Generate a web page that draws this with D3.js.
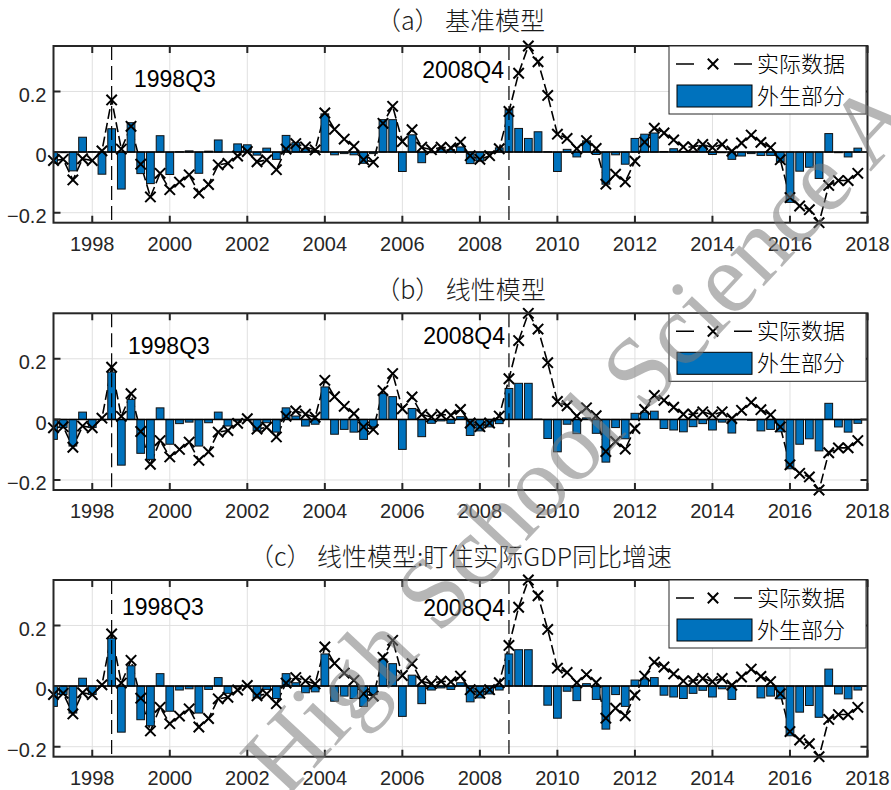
<!DOCTYPE html>
<html>
<head>
<meta charset="utf-8">
<script src="https://cdn.jsdelivr.net/npm/d3@7"></script>
<style>
  body { margin: 0; background: #fff; }
  svg { display: block; }
</style>
</head>
<body>
<svg id="chart" width="891" height="790"></svg>
<script>
// Quarterly sample 1997Q1 – 2017Q4
const quarters = d3.range(84).map(i => `${1997 + Math.floor(i / 4)}Q${(i % 4) + 1}`);

// Observed series (same in every panel)
const actual = [
  -0.028, -0.024, -0.092, -0.022, -0.028, 0.004, 0.172, 0.010,
  0.085, -0.040, -0.148, -0.070, -0.124, -0.099, -0.075, -0.135,
  -0.107, -0.042, -0.037, -0.013, 0.002, -0.032, -0.026, -0.058,
  0.010, 0.028, 0.017, 0.007, 0.129, 0.075, 0.043, 0.019,
  -0.025, -0.033, 0.095, 0.151, 0.035, 0.074, 0.016, 0.008,
  0.016, 0.014, 0.033, -0.012, -0.024, -0.012, 0.011, 0.134,
  0.260, 0.350, 0.298, 0.187, 0.059, 0.045, 0.011, 0.038,
  0.012, -0.106, -0.073, -0.098, -0.030, 0.033, 0.079, 0.063,
  0.040, 0.017, 0.017, 0.025, 0.015, 0.025, 0.003, 0.030,
  0.056, 0.032, 0.015, -0.025, -0.150, -0.178, -0.190, -0.233,
  -0.110, -0.094, -0.094, -0.070
];

// Exogenous component, benchmark model
const exoBase = [
  -0.037, -0.002, -0.062, 0.049, 0.001, -0.073, 0.077, -0.122,
  0.097, -0.071, -0.104, 0.054, -0.074, 0.001, 0.004, -0.070,
  0.003, 0.040, 0.000, 0.027, 0.024, -0.010, 0.013, -0.024,
  0.055, 0.031, 0.011, 0.005, 0.126, -0.009, -0.005, -0.009,
  -0.037, -0.005, 0.107, 0.107, -0.064, 0.057, -0.035, -0.002,
  0.011, 0.008, 0.017, -0.038, -0.030, -0.004, 0.014, 0.140,
  0.078, 0.045, 0.067, 0.001, -0.064, 0.009, -0.016, 0.037,
  -0.008, -0.106, -0.009, -0.040, 0.045, 0.059, 0.063, 0.002,
  0.011, 0.002, 0.003, 0.022, -0.008, -0.002, -0.024, -0.013,
  -0.005, -0.011, -0.011, -0.033, -0.166, -0.063, -0.050, -0.087,
  0.061, -0.002, -0.016, 0.013
];

// Exogenous component, linear model
const exoLinear = [
  -0.066, -0.027, -0.088, 0.024, -0.027, -0.002, 0.156, -0.151,
  0.066, -0.112, -0.132, 0.038, -0.082, -0.014, -0.009, -0.088,
  -0.011, 0.024, -0.022, -0.005, -0.003, -0.038, -0.011, -0.042,
  0.038, 0.011, -0.022, -0.016, 0.107, -0.049, -0.033, -0.042,
  -0.066, -0.025, 0.085, 0.075, -0.099, 0.036, -0.057, -0.013,
  -0.005, -0.013, 0.009, -0.053, -0.038, -0.025, -0.014, 0.102,
  0.119, 0.119, 0.001, -0.063, -0.107, -0.016, -0.047, 0.005,
  -0.046, -0.141, -0.027, -0.064, 0.020, 0.024, 0.027, -0.030,
  -0.035, -0.041, -0.024, -0.014, -0.035, -0.009, -0.045, -0.001,
  -0.003, -0.038, -0.033, -0.041, -0.163, -0.082, -0.064, -0.104,
  0.053, -0.025, -0.042, -0.013
];

// Exogenous component, linear model targeting real GDP growth (y/y)
const exoLinearGdp = [
  -0.067, -0.028, -0.089, 0.026, -0.028, -0.001, 0.158, -0.152,
  0.067, -0.111, -0.131, 0.041, -0.083, -0.013, -0.009, -0.089,
  -0.011, 0.028, -0.024, -0.003, -0.002, -0.039, -0.011, -0.041,
  0.041, 0.011, -0.022, -0.019, 0.106, -0.050, -0.033, -0.041,
  -0.067, -0.028, 0.089, 0.074, -0.100, 0.036, -0.058, -0.013,
  -0.006, -0.011, 0.011, -0.052, -0.039, -0.026, -0.013, 0.106,
  0.120, 0.120, 0.001, -0.063, -0.106, -0.017, -0.048, 0.008,
  -0.044, -0.142, -0.028, -0.067, 0.020, 0.024, 0.028, -0.030,
  -0.036, -0.041, -0.024, -0.014, -0.036, -0.009, -0.044, 0.001,
  -0.001, -0.039, -0.033, -0.042, -0.164, -0.086, -0.064, -0.103,
  0.056, -0.026, -0.042, -0.013
];

const panelTitles = ["（a）  基准模型", "（b）  线性模型", "（c） 线性模型:盯住实际GDP同比增速"];
const panelSeries = [exoBase, exoLinear, exoLinearGdp];
const legendLabels = ["实际数据", "外生部分"];
const eventQuarters = ["1998Q3", "2008Q4"];
const xTicks = d3.range(1998, 2019, 2);
const yTicks = [-0.2, 0, 0.2];
const stampText = "High School Science A";

// Layout
const W = 891, H = 790;
const left = 53.5, right = 867.5, panelH = 176.7;
const panelTops = [46, 313.3, 580];
const titleY = [21, 290, 557];
// label placement of the event annotations, per panel (offsets from panel top)
const eventLabelY = [[33, 24], [32, 22], [27, 28]];
const eventLabelX = [[134, 504], [128, 505], [122, 505]];

const barColor = "#0072BD";
const axisColor = "#262626";
const gridColor = "#e0e0e0";
const latin = "'Liberation Sans', Arial, sans-serif";
const cjk = "'Noto Sans CJK SC', 'Noto Sans', sans-serif";

const toTime = q => +q.slice(0, 4) + (+q.slice(5) - 1) / 4;
const times = quarters.map(toTime);

const svg = d3.select("#chart");
svg.append("rect").attr("width", W).attr("height", H).attr("fill", "#fff");

const x = d3.scaleLinear().domain([1997, 2018]).range([left, right]);
const step = x(1997.25) - x(1997);
const barW = step * 0.8;

const crossPath = "M-5.2,-5.2L5.2,5.2M-5.2,5.2L5.2,-5.2";

panelSeries.forEach((exo, p) => {
  const top = panelTops[p], bottom = top + panelH;
  const y = d3.scaleLinear().domain(d3.extent(actual)).range([bottom, top]);
  const g = svg.append("g");
  const clipId = "clip" + p;
  svg.append("clipPath").attr("id", clipId)
    .append("rect").attr("x", left).attr("y", top).attr("width", right - left).attr("height", panelH);

  // title
  svg.append("text")
    .attr("x", (left + right) / 2).attr("y", titleY[p]).attr("dy", "0.36em")
    .attr("text-anchor", "middle")
    .style("font-family", cjk).style("font-size", "25px").style("font-weight", 300)
    .style("fill", "#1a1a1a")
    .text(panelTitles[p]);

  // grid
  g.append("g").selectAll("line").data(xTicks).join("line")
    .attr("x1", d => x(d)).attr("x2", d => x(d)).attr("y1", top).attr("y2", bottom)
    .attr("stroke", gridColor).attr("stroke-width", 1);
  g.append("g").selectAll("line").data(yTicks).join("line")
    .attr("x1", left).attr("x2", right).attr("y1", d => y(d)).attr("y2", d => y(d))
    .attr("stroke", gridColor).attr("stroke-width", 1);

  const plot = g.append("g").attr("clip-path", `url(#${clipId})`);

  // observed series: dashed line with x markers (drawn beneath the bars)
  const line = d3.line().x((d, i) => x(times[i])).y(d => y(d));
  plot.append("path").datum(actual)
    .attr("d", line).attr("fill", "none")
    .attr("stroke", "#000").attr("stroke-width", 1.6)
    .attr("stroke-dasharray", "10,4");
  g.append("g").selectAll("path").data(actual).join("path")
    .attr("transform", (d, i) => `translate(${x(times[i])},${y(d)})`)
    .attr("d", crossPath)
    .attr("stroke", "#000").attr("stroke-width", 2).attr("fill", "none");

  // exogenous component bars
  plot.append("g").selectAll("rect").data(exo).join("rect")
    .attr("x", (d, i) => x(times[i]) - barW / 2)
    .attr("width", barW)
    .attr("y", d => y(Math.max(0, d)))
    .attr("height", d => Math.abs(y(d) - y(0)))
    .attr("fill", barColor).attr("stroke", "#111").attr("stroke-width", 1);

  // bar baseline
  g.append("line").attr("x1", left).attr("x2", right)
    .attr("y1", y(0)).attr("y2", y(0))
    .attr("stroke", "#000").attr("stroke-width", 1.5);

  // event markers
  eventQuarters.forEach((q, k) => {
    const ex = x(toTime(q));
    g.append("line").attr("x1", ex).attr("x2", ex).attr("y1", top).attr("y2", bottom)
      .attr("stroke", "#000").attr("stroke-width", 1.2).attr("stroke-dasharray", "14,6");
    g.append("text")
      .attr("x", eventLabelX[p][k]).attr("y", top + eventLabelY[p][k]).attr("dy", "0.36em")
      .attr("text-anchor", k === 0 ? "start" : "end")
      .style("font-family", latin).style("font-size", "23px").style("fill", "#000")
      .text(q);
  });

  // axes box, ticks
  g.append("rect").attr("x", left).attr("y", top).attr("width", right - left).attr("height", panelH)
    .attr("fill", "none").attr("stroke", axisColor).attr("stroke-width", 2);
  const tl = 7;
  g.append("g").selectAll("path").data(xTicks).join("path")
    .attr("d", d => `M${x(d)},${bottom}v${-tl}M${x(d)},${top}v${tl}`)
    .attr("stroke", axisColor).attr("stroke-width", 2);
  g.append("g").selectAll("path").data(yTicks).join("path")
    .attr("d", d => `M${left},${y(d)}h${tl}M${right},${y(d)}h${-tl}`)
    .attr("stroke", axisColor).attr("stroke-width", 2);

  g.append("g").selectAll("text").data(xTicks).join("text")
    .attr("x", d => x(d)).attr("y", bottom + 21).attr("dy", "0.36em")
    .attr("text-anchor", "middle")
    .style("font-family", latin).style("font-size", "20px").style("fill", axisColor)
    .text(d => d);
  g.append("g").selectAll("text").data(yTicks).join("text")
    .attr("x", left - 7).attr("y", d => y(d) + 3).attr("dy", "0.36em")
    .attr("text-anchor", "end")
    .style("font-family", latin).style("font-size", "20px").style("fill", axisColor)
    .text(d => d3.format("")(d));

  // legend
  const lg = g.append("g");
  const lx = 669, ly = top, lw = 197, lh = 68;
  lg.append("rect").attr("x", lx).attr("y", ly).attr("width", lw).attr("height", lh)
    .attr("fill", "#fff").attr("stroke", axisColor).attr("stroke-width", 1);
  const r1 = ly + 18, r2 = ly + 50;
  lg.append("path").attr("d", `M676,${r1}H694M734,${r1}H752`)
    .attr("stroke", "#000").attr("stroke-width", 1.6);
  lg.append("path").attr("transform", `translate(713,${r1})`).attr("d", crossPath)
    .attr("stroke", "#000").attr("stroke-width", 2);
  lg.append("rect").attr("x", 677).attr("y", r2 - 11).attr("width", 75).attr("height", 22)
    .attr("fill", barColor).attr("stroke", "#000").attr("stroke-width", 1);
  lg.selectAll("text").data(legendLabels).join("text")
    .attr("x", 757).attr("y", (d, i) => (i === 0 ? r1 : r2)).attr("dy", "0.36em")
    .style("font-family", cjk).style("font-size", "22px").style("font-weight", 300)
    .style("fill", "#000")
    .text(d => d);
});

// diagonal stamp across the figure
svg.append("text")
  .attr("transform", "translate(285,800) rotate(-47)")
  .style("font-family", "'Liberation Serif', 'DejaVu Serif', serif")
  .style("font-size", "100px")
  .style("fill", "#7a7a7a").style("fill-opacity", 0.55)
  .text(stampText);
</script>
</body>
</html>
